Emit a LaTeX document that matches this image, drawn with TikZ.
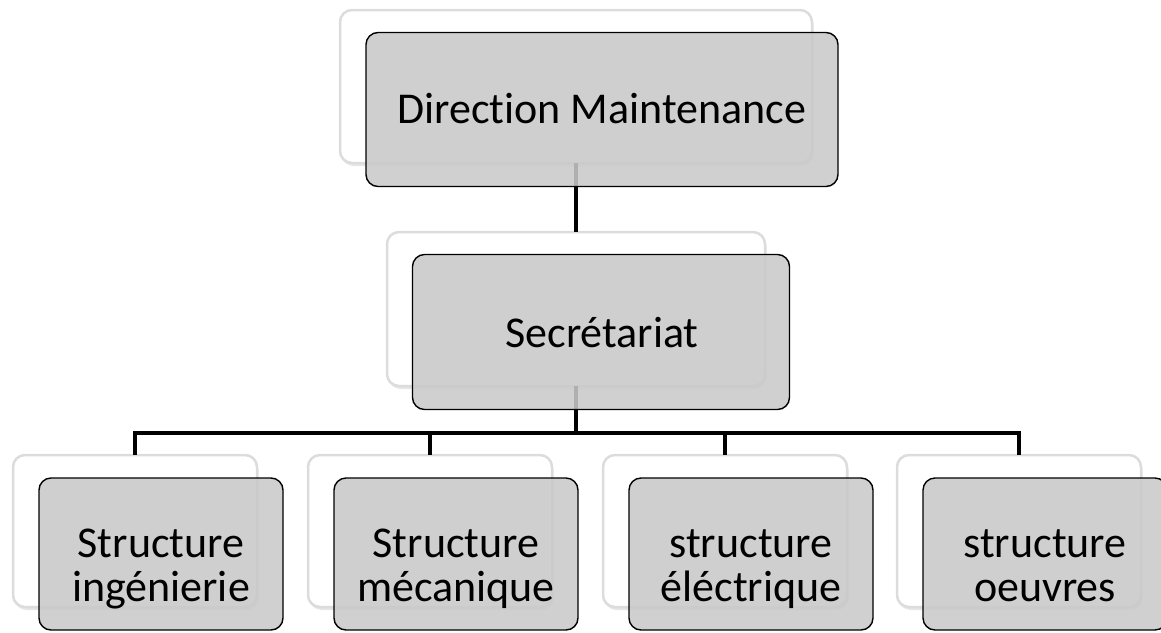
\documentclass[tikz,border=0pt]{standalone}
\usepackage{fontspec}
\setmainfont{Carlito}[Ligatures=NoCommon]
\usetikzlibrary{shadows}
\definecolor{frontgray}{RGB}{201,201,201}
\definecolor{backedge}{RGB}{220,220,220}
\newcommand{\twolines}[2]{\vtop{\baselineskip=44pt\lineskiplimit=-100pt\lineskip=0pt\halign{\hfil##\hfil\cr#1\cr#2\cr}}}
\tikzset{
  backbox/.style={draw=backedge, line width=2.5pt, fill=white, rounded corners=12pt,
    drop shadow={opacity=0.2, shadow xshift=1.5pt, shadow yshift=-3pt},
    inner sep=0pt, outer sep=0pt},
  frontbox/.style={draw=black, line width=1.4pt, fill=frontgray, fill opacity=0.875,
    rounded corners=12pt, inner sep=0pt, outer sep=0pt},
  conn/.style={draw=black, line width=4.5pt},
  lbl/.style={anchor=base, inner sep=0pt, font=\fontsize{44}{44}\selectfont, text=black}
}
\begin{document}
\begin{tikzpicture}[x=1pt, y=-1pt]
\useasboundingbox (0,0) rectangle (1161,632);
% back boxes
\node[backbox, minimum width=472pt, minimum height=153pt] (tb) at (576,86.5) {};
\node[backbox, minimum width=378pt, minimum height=154pt] (sb) at (576,309) {};
\node[backbox, minimum width=244pt, minimum height=152pt] (b1) at (135,531) {};
\node[backbox, minimum width=244pt, minimum height=152pt] (b2) at (430,531) {};
\node[backbox, minimum width=244pt, minimum height=152pt] (b3) at (725,531) {};
\node[backbox, minimum width=244pt, minimum height=152pt] (b4) at (1019,531) {};
% connectors
\draw[conn] (tb.south) -- (sb.north);
\draw[conn] (sb.south) -- ++(0,47) -| (b1.north);
\draw[conn] (sb.south) -- ++(0,47) -| (b2.north);
\draw[conn] (sb.south) -- ++(0,47) -| (b3.north);
\draw[conn] (sb.south) -- ++(0,47) -| (b4.north);
% front boxes
\node[frontbox, minimum width=472pt, minimum height=154pt] (tf) at (602,109.5) {};
\node[frontbox, minimum width=377pt, minimum height=155pt] (sf) at (601,332) {};
\node[frontbox, minimum width=244pt, minimum height=152pt] (f1) at (161,554) {};
\node[frontbox, minimum width=244pt, minimum height=152pt] (f2) at (456,554) {};
\node[frontbox, minimum width=244pt, minimum height=152pt] (f3) at (751,554) {};
\node[frontbox, minimum width=244pt, minimum height=152pt] (f4) at (1045,554) {};
% texts
\node[lbl] (t0) at (602,123) {Direction Maintenance};
\node[lbl] (ts) at (602,347) {Secrétariat};
\node[lbl] (t1) at (161,557) {\twolines{Structure}{ingénierie}};
\node[lbl] (t2) at (456,557) {\twolines{Structure}{mécanique}};
\node[lbl] (t3) at (751,557) {\twolines{structure}{éléctrique}};
\node[lbl] (t4) at (1045,557) {\twolines{structure}{oeuvres}};
\end{tikzpicture}
\end{document}
